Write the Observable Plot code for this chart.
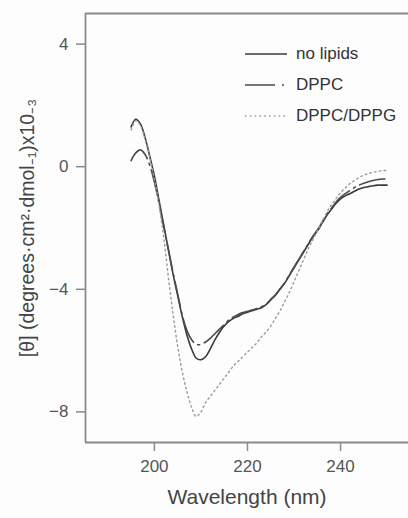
<!DOCTYPE html>
<html><head><meta charset="utf-8">
<script src="https://cdn.jsdelivr.net/npm/d3@7"></script>
<script src="https://cdn.jsdelivr.net/npm/@observablehq/plot@0.6"></script>
<style>
html,body{margin:0;padding:0;background:#fdfdfd;}
#wrap{position:relative;width:408px;height:518px;overflow:hidden;font-family:"Liberation Sans",Arial,sans-serif;}
#legend{position:absolute;left:245px;top:38px;font-size:17px;color:#333;}
#legend .row{display:flex;align-items:center;height:31px;}
#legend svg{margin-right:9px;}
</style></head>
<body><div id="wrap"><div id="legend"></div></div>
<script>
const wavelength = [195,196,197,198,199,200,201,202,203,204,205,206,207,208,209,210,211,212,213,214,215,216,217,218,219,220,221,222,223,224,225,226,227,228,229,230,231,232,233,234,235,236,237,238,239,240,241,242,243,244,245,246,247,248,249,250];
const noLipids = [1.3,1.55,1.4,0.95,0.35,-0.3,-1.1,-1.9,-2.7,-3.5,-4.2,-4.9,-5.5,-5.95,-6.25,-6.3,-6.2,-5.95,-5.65,-5.4,-5.2,-5.05,-4.95,-4.88,-4.8,-4.75,-4.7,-4.65,-4.6,-4.5,-4.35,-4.2,-4.0,-3.8,-3.55,-3.3,-3.05,-2.8,-2.55,-2.3,-2.1,-1.85,-1.6,-1.4,-1.2,-1.05,-0.95,-0.88,-0.8,-0.73,-0.68,-0.65,-0.62,-0.6,-0.6,-0.6];
const dppc = [0.2,0.45,0.55,0.4,0.05,-0.5,-1.2,-1.95,-2.7,-3.45,-4.15,-4.85,-5.35,-5.65,-5.8,-5.8,-5.72,-5.6,-5.45,-5.3,-5.15,-5.0,-4.9,-4.82,-4.76,-4.72,-4.68,-4.63,-4.57,-4.48,-4.33,-4.18,-3.98,-3.78,-3.53,-3.28,-3.03,-2.78,-2.53,-2.28,-2.07,-1.82,-1.57,-1.36,-1.16,-1.0,-0.88,-0.78,-0.68,-0.6,-0.54,-0.49,-0.45,-0.42,-0.4,-0.4];
const dppcDppg = [1.2,1.5,1.35,0.9,0.3,-0.4,-1.25,-2.3,-3.6,-4.8,-5.85,-6.7,-7.35,-7.85,-8.15,-8.0,-7.7,-7.5,-7.3,-7.1,-6.9,-6.7,-6.5,-6.35,-6.2,-6.05,-5.9,-5.75,-5.55,-5.4,-5.2,-4.95,-4.7,-4.4,-4.1,-3.75,-3.4,-3.05,-2.7,-2.4,-2.1,-1.8,-1.5,-1.25,-1.05,-0.85,-0.7,-0.55,-0.45,-0.35,-0.28,-0.22,-0.18,-0.15,-0.13,-0.12];
const seriesNames = ["no lipids","DPPC","DPPC/DPPG"];
const xTicks = [200,220,240];
const yTicks = [4,0,-4,-8];

const styles = {
  "no lipids": {stroke:"#3a3a3a", dash:null, width:1.6},
  "DPPC": {stroke:"#4a4a4a", dash:"26,5,2,5", width:1.6},
  "DPPC/DPPG": {stroke:"#9a9a9a", dash:"1.6,3.2", width:1.4}
};
const seriesValues = [noLipids, dppc, dppcDppg];
const rows = [];
seriesNames.forEach((s,i)=>wavelength.forEach((w,j)=>rows.push({series:s, w, v:seriesValues[i][j]})));

const frameColor = "#8a8a8a";
const chart = Plot.plot({
  width:408, height:518,
  marginLeft:85, marginTop:13, marginBottom:76, marginRight:0,
  style:{background:"#fdfdfd", fontFamily:"Liberation Sans, Arial, sans-serif", color:"#555"},
  x:{domain:[185.2,254.6]},
  y:{domain:[-9,5]},
  marks:[
    Plot.ruleY([5,-9], {stroke:frameColor, strokeWidth:1.8}),
    Plot.ruleX([185.2], {stroke:frameColor, strokeWidth:1.8}),
    Plot.axisX({ticks:xTicks, tickSize:9, tickPadding:8, fontSize:17, stroke:frameColor, strokeWidth:1.5, label:"Wavelength (nm)", labelAnchor:"center", labelOffset:61, labelArrow:"none"}),
    Plot.axisY({ticks:yTicks, tickSize:9, tickPadding:8, fontSize:17, stroke:frameColor, strokeWidth:1.5, label:null}),
    ...seriesNames.map(s => Plot.line(rows.filter(d=>d.series===s), {x:"w", y:"v", curve:"catmull-rom", stroke:styles[s].stroke, strokeWidth:styles[s].width, strokeDasharray:styles[s].dash}))
  ]
});
d3.select(chart).selectAll("[aria-label='x-axis label'] text").style("font-size","21px").style("fill","#444");
d3.select(chart).selectAll("[aria-label='x-axis tick label'] text, [aria-label='y-axis tick label'] text").style("fill","#555");
document.getElementById("wrap").prepend(chart);

// y title
const yt = document.createElement("div");
yt.textContent = "[θ] (degrees·cm²·dmol₋₁)x10₋₃";
Object.assign(yt.style,{position:"absolute", left:"26px", top:"228px", transform:"translate(-50%,-50%) rotate(-90deg)", whiteSpace:"nowrap", fontSize:"19.5px", color:"#444"});
document.getElementById("wrap").appendChild(yt);

// legend
const leg = document.getElementById("legend");
seriesNames.forEach(s=>{
  const row = document.createElement("div"); row.className="row";
  const st = styles[s];
  row.innerHTML = `<svg width="42" height="6"><line x1="0" y1="3" x2="42" y2="3" stroke="${st.stroke}" stroke-width="${st.width}" ${st.dash?`stroke-dasharray="${s==="DPPC"?"30,7,2,7":st.dash}"`:""}/></svg><span>${s}</span>`;
  leg.appendChild(row);
});
</script></body></html>
